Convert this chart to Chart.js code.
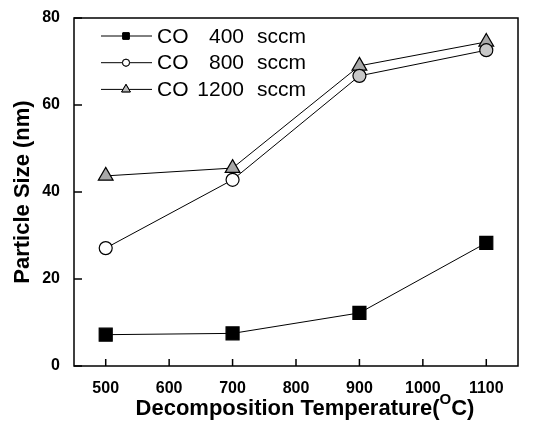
<!DOCTYPE html>
<html><head><meta charset="utf-8">
<script src="https://cdn.jsdelivr.net/npm/chart.js@4"></script>
<style>html,body{margin:0;padding:0;background:#fff}</style>
</head><body>
<canvas id="c" width="540" height="430"></canvas>
<script>
const temperatures = [500, 700, 900, 1100];
const co400 = [7.2, 7.5, 12.2, 28.3];
const co800 = [27.1, 42.8, 66.7, 72.6];
const co1200 = [43.7, 45.5, 69.0, 74.5];
const xTicks = [500, 600, 700, 800, 900, 1000, 1100];
const yTicks = [0, 20, 40, 60, 80];
const legendGas = ['CO', 'CO', 'CO'];
const legendFlow = ['400', '800', '1200'];
const legendUnit = ['sccm', 'sccm', 'sccm'];
const xTitle = ['Decomposition Temperature(', 'O', 'C)'];
const yTitle = 'Particle Size (nm)';

const pts = arr => temperatures.map((t, i) => ({x: t, y: arr[i]}));

const datasets = [
  {data: pts(co400), pointStyle: 'rect', pointRadius: 9.2, backgroundColor: '#000', borderColor: '#000', legendRadius: 4.5, legendFill: '#000'},
  {data: pts(co800), pointStyle: 'circle', pointRadius: 6.5, backgroundColor: ['#fff', '#fff', '#c8c8c8', '#c8c8c8'], borderColor: '#000', legendRadius: 3.5, legendFill: '#fff'},
  {data: pts(co1200), pointStyle: 'triangle', pointRadius: 8.5, backgroundColor: '#a8a8a8', borderColor: '#000', legendRadius: 5, legendFill: '#bbb'}
].map(d => Object.assign({
  borderWidth: 1, pointBorderWidth: 1.2, showLine: true, fill: false, tension: 0,
  pointBackgroundColor: d.backgroundColor, pointBorderColor: '#000'
}, d));

const FONT = '"Liberation Sans", Arial, sans-serif';

const decor = {
  id: 'decor',
  afterDraw(chart) {
    const {ctx, chartArea: a, scales: {x, y}} = chart;
    ctx.save();
    ctx.strokeStyle = '#000';
    ctx.lineWidth = 1.5;
    ctx.strokeRect(a.left, a.top, a.right - a.left, a.bottom - a.top);
    xTicks.forEach(v => {
      const px = x.getPixelForValue(v);
      ctx.beginPath(); ctx.moveTo(px, a.bottom); ctx.lineTo(px, a.bottom - 7); ctx.stroke();
    });
    yTicks.forEach(v => {
      const py = y.getPixelForValue(v);
      ctx.beginPath(); ctx.moveTo(a.left, py); ctx.lineTo(a.left + 8, py); ctx.stroke();
    });
    // x title with superscript
    ctx.fillStyle = '#000';
    ctx.textBaseline = 'alphabetic';
    ctx.textAlign = 'left';
    ctx.font = 'bold 22px ' + FONT;
    const w1 = ctx.measureText(xTitle[0]).width;
    const w3 = ctx.measureText(xTitle[2]).width;
    ctx.font = 'bold 15px ' + FONT;
    const w2 = ctx.measureText(xTitle[1]).width;
    const total = w1 + w2 + w3;
    const sx = 305 - total / 2;
    const base = 415;
    ctx.font = 'bold 22px ' + FONT;
    ctx.fillText(xTitle[0], sx, base);
    ctx.font = 'bold 15px ' + FONT;
    ctx.fillText(xTitle[1], sx + w1, base - 11);
    ctx.font = 'bold 22px ' + FONT;
    ctx.fillText(xTitle[2], sx + w1 + w2, base);
    // y title
    ctx.save();
    ctx.translate(23, (a.top + a.bottom) / 2);
    ctx.rotate(-Math.PI / 2);
    ctx.textAlign = 'center';
    ctx.textBaseline = 'middle';
    ctx.font = 'bold 22px ' + FONT;
    ctx.fillText(yTitle, 0, 0);
    ctx.restore();
    // legend
    chart.data.datasets.forEach((d, i) => {
      const ly = 36 + i * 26.7;
      ctx.strokeStyle = '#000';
      ctx.lineWidth = 1;
      ctx.beginPath(); ctx.moveTo(101, ly); ctx.lineTo(152, ly); ctx.stroke();
      Chart.helpers.drawPoint(ctx, {pointStyle: d.pointStyle, radius: d.legendRadius, borderWidth: 1}, 126, ly);
      ctx.fillStyle = d.legendFill;
      ctx.lineWidth = 1;
      ctx.fill(); ctx.stroke();
      ctx.fillStyle = '#000';
      ctx.font = '21px ' + FONT;
      ctx.textBaseline = 'middle';
      ctx.textAlign = 'left';
      ctx.fillText(legendGas[i], 157, ly + 1);
      ctx.textAlign = 'right';
      ctx.fillText(legendFlow[i], 244, ly + 1);
      ctx.textAlign = 'left';
      ctx.fillText(legendUnit[i], 257, ly + 1);
    });
    ctx.restore();
  }
};

new Chart(document.getElementById('c'), {
  type: 'scatter',
  data: {datasets},
  options: {
    responsive: false,
    animation: false,
    layout: {padding: {left: 0, top: 18, right: 22, bottom: 0}},
    plugins: {legend: {display: false}, tooltip: {enabled: false}},
    scales: {
      x: {
        type: 'linear', min: 450, max: 1150,
        grid: {display: false}, border: {display: false},
        afterBuildTicks: s => { s.ticks = xTicks.map(v => ({value: v})); },
        afterFit: s => { s.height = 64; },
        ticks: {color: '#000', padding: 5, callback: v => String(v), font: {family: FONT, size: 16, weight: 'bold'}}
      },
      y: {
        type: 'linear', min: 0, max: 80,
        grid: {display: false}, border: {display: false},
        afterBuildTicks: s => { s.ticks = yTicks.map(v => ({value: v})); },
        afterFit: s => { s.width = 74; },
        ticks: {color: '#000', padding: 6, callback: v => String(v), font: {family: FONT, size: 16, weight: 'bold'}}
      }
    }
  },
  plugins: [decor]
});
</script>
</body></html>
